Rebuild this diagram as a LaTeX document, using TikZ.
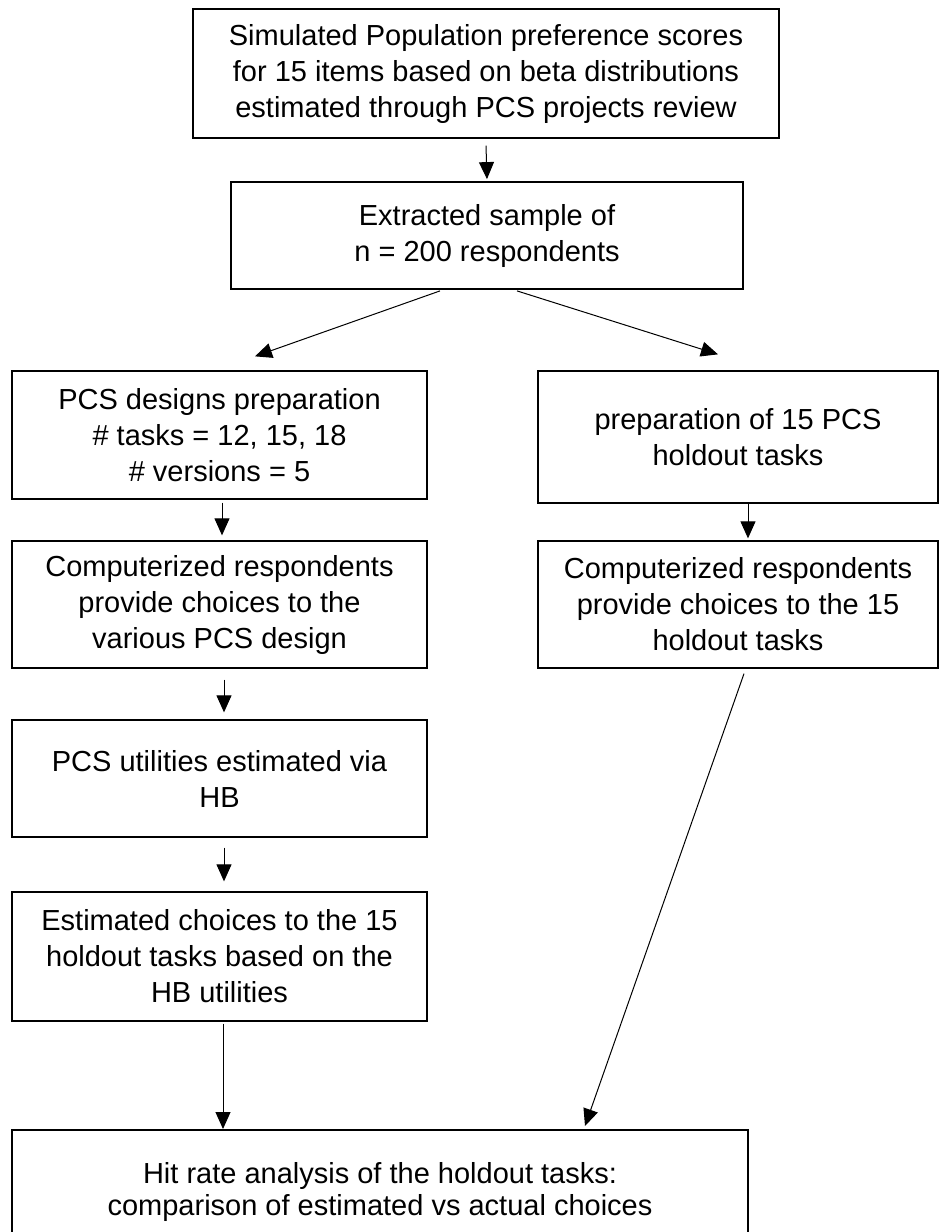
\documentclass[tikz,border=0pt]{standalone}
\usepackage{fontspec}
\setmainfont{Liberation Sans}
\usetikzlibrary{arrows.meta,positioning}

\begin{document}
\begin{tikzpicture}[x=1pt,y=-1pt,
    box/.style={draw,line width=1.3pt,align=center,inner sep=0pt,
      font=\fontsize{29}{36}\selectfont},
    lbox/.style={box,minimum width=415pt},
    rbox/.style={box,minimum width=400pt},
    arr/.style={-{Triangle[width=15pt,length=17pt]},line width=1pt}]
  \useasboundingbox (0,0) rectangle (941,1232);
  % top of the flow
  \node[box,minimum width=586pt,minimum height=129pt] (pop) at (486,73.5)
    {Simulated Population preference scores\\for 15 items based on beta distributions\\estimated through PCS projects review};
  \node[box,line width=1.8pt,minimum width=512pt,minimum height=107pt] (ext) at (487,235.5)
    {Extracted sample of\\n = 200 respondents};
  % left column
  \node[lbox,minimum height=128pt] (prep) at (219.5,435)
    {PCS designs preparation\\\# tasks = 12, 15, 18\\\# versions = 5};
  \node[lbox,minimum height=127pt] (resp) at (219.5,604.5)
    {Computerized respondents\\provide choices to the\\various PCS design};
  \node[lbox,minimum height=117pt] (util) at (219.5,778.5)
    {PCS utilities estimated via\\HB};
  \node[lbox,minimum height=129pt] (est) at (219.5,956.5)
    {Estimated choices to the 15\\holdout tasks based on the\\HB utilities};
  % right column
  \node[rbox,minimum height=132pt] (hold) at (738,437)
    {preparation of 15 PCS\\holdout tasks};
  \node[rbox,minimum height=127pt] (hresp) at (738,604.5)
    {Computerized respondents\\provide choices to the 15\\holdout tasks};
  % bottom
  \node[box,line width=2pt,minimum width=736pt,minimum height=124pt,
    font=\fontsize{29}{32}\selectfont] (hit) at (380,1192)
    {Hit rate analysis of the holdout tasks:\\comparison of estimated vs actual choices};

  \draw[arr] ([yshift=-7pt]pop.south) -- ([yshift=2pt]ext.north);
  \draw[arr] ([xshift=-47pt,yshift=-1pt]ext.south) -- ([xshift=35.5pt,yshift=14pt]prep.north);
  \draw[arr] ([xshift=30pt,yshift=-1pt]ext.south) -- ([xshift=-20pt,yshift=16pt]hold.north);
  \draw[arr] ([xshift=2.5pt,yshift=-3pt]prep.south) -- ([xshift=2.5pt,yshift=5pt]resp.north);
  \draw[arr] ([xshift=10pt]hold.south) -- ([xshift=10pt,yshift=2pt]hresp.north);
  \draw[arr] ([xshift=4.5pt,yshift=-11pt]resp.south) -- ([xshift=4.5pt,yshift=7pt]util.north);
  \draw[arr] ([xshift=4.5pt,yshift=-10pt]util.south) -- ([xshift=4.5pt,yshift=10pt]est.north);
  \draw[arr] ([xshift=3.5pt,yshift=-2pt]est.south) -- ([xshift=3.5pt,yshift=0pt]est.south |- hit.north) coordinate (tipl);
  \draw[arr] ([xshift=6pt,yshift=-5pt]hresp.south) -- ([xshift=205pt,yshift=3pt]hit.north);
\end{tikzpicture}
\end{document}
